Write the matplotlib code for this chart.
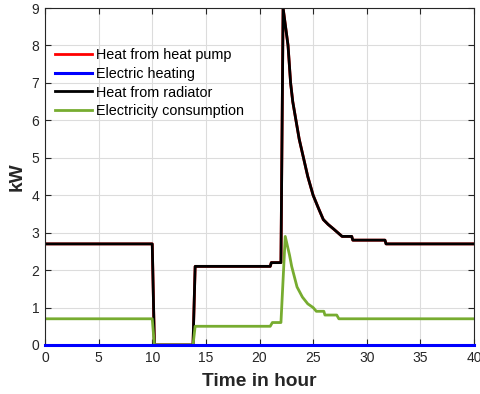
import numpy as np
import matplotlib
matplotlib.use('Agg')
import matplotlib.pyplot as plt

plt.rcParams['font.family'] = ['Liberation Sans', 'DejaVu Sans']

# time (hours) and heat from radiator (kW)
t_rad = [0, 10.0, 10.2, 13.8, 14.0, 21.0, 21.1, 22.0, 22.2, 22.66, 22.9, 23.1, 23.4,
         23.7, 24.1, 24.5, 25.0, 25.5, 25.95, 26.4, 26.9, 27.3, 27.7, 28.6, 28.7,
         31.7, 31.8, 40]
heat_rad = [2.7, 2.7, 0.0, 0.0, 2.1, 2.1, 2.2, 2.2, 9.0, 8.0, 7.0, 6.5, 6.0,
            5.5, 5.0, 4.5, 4.0, 3.65, 3.35, 3.22, 3.1, 3.0, 2.9, 2.9, 2.8,
            2.8, 2.7, 2.7]
heat_pump = heat_rad

# electricity consumption (kW)
t_el = [0, 10.0, 10.2, 13.8, 14.0, 21.0, 21.2, 22.0, 22.4, 22.8, 23.0, 23.5, 24.0,
        24.5, 25.0, 25.3, 26.0, 26.1, 27.2, 27.4, 40]
elec = [0.7, 0.7, 0.0, 0.0, 0.5, 0.5, 0.6, 0.6, 2.9, 2.4, 2.1, 1.55, 1.28,
        1.1, 1.0, 0.9, 0.9, 0.8, 0.8, 0.7, 0.7]

t_eh = [0, 40]
elec_heat = [0, 0]

fig = plt.figure(figsize=(4.81, 3.94), dpi=100)
ax = fig.add_axes([45/481, 1 - 345/394, (474-45)/481, (345-8)/394])

ax.plot(t_rad, heat_pump, color='red', lw=2, label='Heat from heat pump')
ax.plot(t_eh, elec_heat, color='blue', lw=2.2, label='Electric heating',
        clip_on=False, zorder=5)
ax.plot(t_rad, heat_rad, color='black', lw=2, label='Heat from radiator')
ax.plot(t_el, elec, color='#77ac30', lw=2, label='Electricity consumption')

ax.set_xlim(0, 40)
ax.set_ylim(0, 9)
ax.set_xticks(np.arange(0, 41, 5))
ax.set_yticks(np.arange(0, 10, 1))
ax.grid(True, color='#dcdcdc', lw=0.8)
ax.tick_params(direction='in', top=True, right=True, labelsize=10, colors='#262626',
               length=4, pad=4)
for s in ax.spines.values():
    s.set_color('#262626')
ax.set_xlabel('Time in hour', fontsize=13.8, fontweight='bold', color='#262626', labelpad=6)
ax.set_ylabel('kW', fontsize=13.8, fontweight='bold', color='#262626', labelpad=4)

leg = ax.legend(loc='upper left', bbox_to_anchor=(-0.008, 0.919), frameon=False,
                fontsize=10.4, handlelength=2.6, handletextpad=0.28, labelspacing=0.32)

fig.savefig('out.png', dpi=100)
